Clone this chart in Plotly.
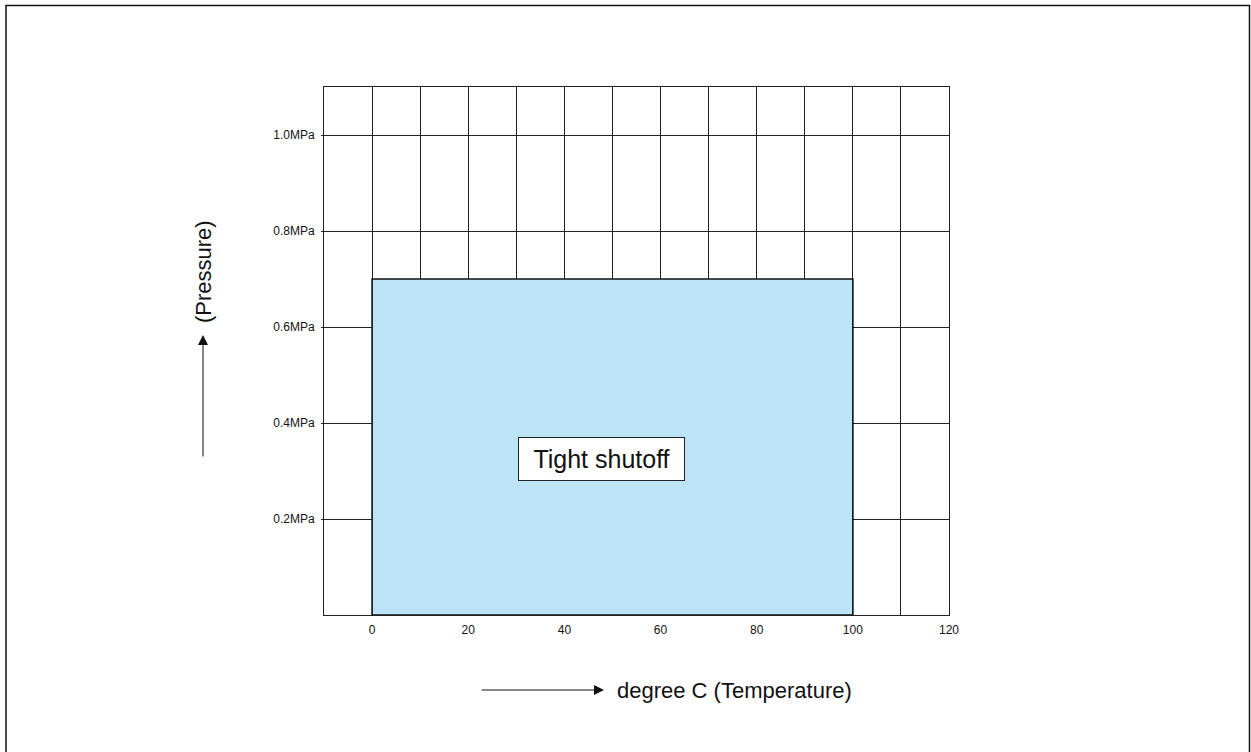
import plotly.graph_objects as go

# Data
region_temp = [0, 0, 100, 100, 0]          # degree C
region_pressure = [0, 0.7, 0.7, 0, 0]      # MPa
x_tick_vals = [0, 20, 40, 60, 80, 100, 120]
x_tick_text = ["0", "20", "40", "60", "80", "100", "120"]
y_tick_vals = [0.2, 0.4, 0.6, 0.8, 1.0]
y_tick_text = ["0.2MPa", "0.4MPa", "0.6MPa", "0.8MPa", "1.0MPa"]
region_label = "Tight shutoff"
x_label = "degree C (Temperature)"
y_label = "(Pressure)"

FONT = "Liberation Sans, Arial, Helvetica, sans-serif"
W, H = 1251, 752
L, R, T, B = 324, 949, 87, 615
pw, ph = R - L, B - T

def px(x):
    return (x - L) / pw

def py(y):
    return (B - y) / ph

fig = go.Figure()
fig.add_trace(go.Scatter(
    x=region_temp, y=region_pressure, mode="lines", fill="toself",
    fillcolor="#bde3f7", line=dict(color="#111", width=1.6),
    hoverinfo="skip", showlegend=False))

fig.update_layout(
    width=W, height=H,
    margin=dict(l=L, r=W - R, t=T, b=H - B, pad=0),
    paper_bgcolor="white", plot_bgcolor="white",
    font=dict(family=FONT, color="#111"),
    showlegend=False,
    xaxis=dict(range=[-10, 120], tickvals=x_tick_vals, ticktext=x_tick_text,
               showgrid=True, gridcolor="#222", gridwidth=1,
               minor=dict(dtick=10, tick0=0, showgrid=True, gridcolor="#222", gridwidth=1),
               zeroline=False, showline=True, linecolor="#222", linewidth=1, mirror=True,
               ticks="", ticklabelstandoff=4,
               tickfont=dict(size=12, family=FONT, color="#111")),
    yaxis=dict(range=[0, 1.1], tickvals=y_tick_vals, ticktext=y_tick_text,
               showgrid=True, gridcolor="#222", gridwidth=1,
               zeroline=False, showline=True, linecolor="#222", linewidth=1, mirror=True,
               ticks="outside", ticklen=2, tickcolor="#222", ticklabelstandoff=4,
               tickfont=dict(size=12, family=FONT, color="#111")),
)

fig.add_annotation(x=47.8, y=0.325, xref="x", yref="y", text=region_label,
                   showarrow=False, font=dict(size=25, family=FONT, color="#111"),
                   width=153, height=30, align="center", valign="middle",
                   bgcolor="white", bordercolor="#222", borderwidth=1, borderpad=6)

# axis titles with arrows
fig.add_annotation(x=px(203), y=py(272), xref="paper", yref="paper", text=y_label,
                   textangle=-90, showarrow=False, xanchor="center", yanchor="middle",
                   font=dict(size=22, family=FONT, color="#111"))
fig.add_annotation(x=px(203), y=py(335), xref="paper", yref="paper", text="",
                   showarrow=True, ax=0, ay=123, arrowhead=2, arrowsize=2,
                   arrowwidth=1, arrowcolor="#111")
fig.add_annotation(x=px(734), y=py(690), xref="paper", yref="paper", text=x_label,
                   showarrow=False, xanchor="center", yanchor="middle",
                   font=dict(size=22, family=FONT, color="#111"))
fig.add_annotation(x=px(604), y=py(690), xref="paper", yref="paper", text="",
                   showarrow=True, ax=-124, ay=0, arrowhead=2, arrowsize=2,
                   arrowwidth=1, arrowcolor="#111")

# outer frame
fig.add_shape(type="rect", xref="paper", yref="paper",
              x0=px(6), x1=px(1249.5), y0=py(765), y1=py(5.5),
              line=dict(color="#111", width=1.5), fillcolor="rgba(0,0,0,0)")

fig.write_html("out.html", config={"displayModeBar": False},
               post_script="document.body.style.margin='0';")
